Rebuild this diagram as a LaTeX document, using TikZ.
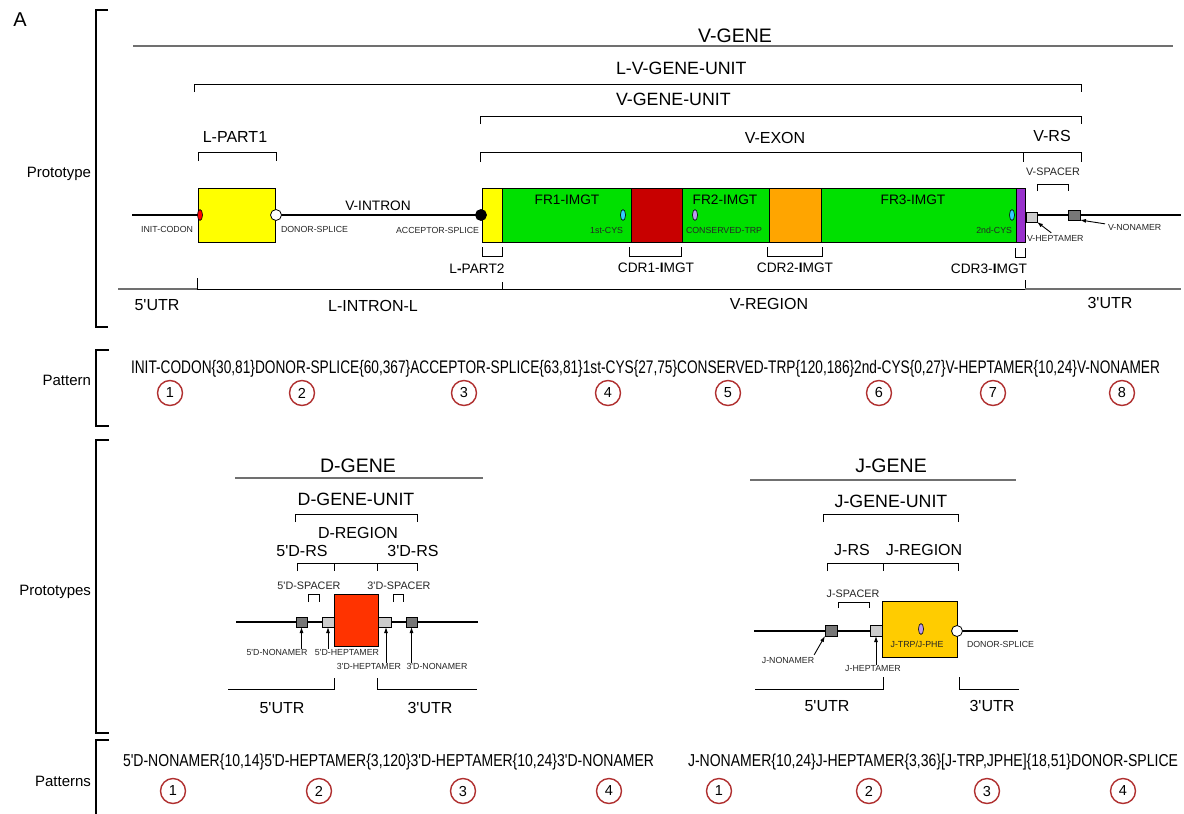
\documentclass[tikz,border=0pt]{standalone}
\usepackage{fontspec}
\setmainfont{Liberation Sans}
\usepackage{graphicx}
\usetikzlibrary{arrows.meta, shapes.geometric}

\definecolor{imgtyellow}{HTML}{FFFF00}
\definecolor{imgtgreen} {HTML}{00E000}
\definecolor{imgtcdra}  {HTML}{C80000}
\definecolor{imgtcdrb}  {HTML}{FFA500}
\definecolor{imgtcdrc}  {HTML}{9933CC}
\definecolor{imgtdreg}  {HTML}{FF3300}
\definecolor{imgtjreg}  {HTML}{FFCC00}
\definecolor{heplight}  {HTML}{CCCCCC}
\definecolor{nondark}   {HTML}{777777}
\definecolor{cyscyan}   {HTML}{33CCFF}
\definecolor{trplav}    {HTML}{BB99EE}
\definecolor{ringred}   {HTML}{B03030}
\definecolor{linegray}  {HTML}{707070}

\newcommand{\apos}{\textquotesingle}

\begin{document}
\begin{tikzpicture}[x=1pt, y=-1pt,
  every node/.style={inner sep=0pt, outer sep=0pt},
  ttl/.style={font=\fontsize{19.5}{23}\selectfont, text height=14pt, text depth=0pt},
  unit/.style={font=\fontsize{17.8}{21}\selectfont, text height=12.8pt, text depth=0pt},
  lbl/.style={font=\fontsize{16}{19}\selectfont, text height=11.5pt, text depth=0pt},
  seg/.style={font=\fontsize{13.7}{16}\selectfont, text height=9.8pt, text depth=0pt},
  sml/.style={font=\fontsize{10.8}{13}\selectfont, text height=7.8pt, text depth=0pt, text=black!85},
  tiny/.style={font=\fontsize{8.8}{10}\selectfont, text height=6.3pt, text depth=0pt, text=black!85},
  side/.style={font=\fontsize{15}{18}\selectfont, text height=10.7pt, text depth=0pt, anchor=east},
  box/.style={draw=black, line width=0.9pt, anchor=north west},
  motif/.style={draw=black, line width=0.6pt, ellipse, minimum width=5pt, minimum height=11pt},
  dot/.style={draw=black, line width=0.8pt, circle, minimum size=11pt},
  ring/.style={circle, draw=ringred, line width=1.4pt, fill=white, minimum size=25pt,
    font=\fontsize{14.5}{17}\selectfont},
  brk/.style={line width=1pt},
  sbrk/.style={line width=1.4pt},
  gline/.style={line width=1.3pt, draw=linegray},
  mline/.style={line width=1.2pt},
  arr/.style={-{Latex[length=6pt,width=4pt]}, line width=0.9pt},
  pat/.style={anchor=base west, font=\fontsize{17}{20}\selectfont},
]
\fill[white] (0,0) rectangle (1184,814);
\useasboundingbox (0,0) rectangle (1184,814);

% side brackets
\node[font=\fontsize{20}{24}\selectfont] (panel) at (20,20) {A};
\draw[sbrk] (108,10) -- (96,10) -- (96,327) -- (108,327);
\draw[sbrk] (109,350) -- (96,350) -- (96,426) -- (109,426);
\draw[sbrk] (109,440) -- (96,440) -- (96,733) -- (109,733);
\draw[sbrk] (109,740) -- (96,740) -- (96,814);
\node[side] (sproto)  at (91,172) {Prototype};
\node[side] (spat)    at (91,380) {Pattern};
\node[side] (sprotos) at (91,590) {Prototypes};
\node[side] (spats)   at (91,781) {Patterns};

% V-GENE brackets
\node[ttl] (vgene) at (735,35) {V-GENE};
\draw[gline] (133,46) -- (1173,46);
\node[unit, anchor=west] (lvunit) at (616,68) {L-V-GENE-UNIT};
\draw[brk] (194,92) -- (194,84) -- (1081,84) -- (1081,92);
\node[unit, anchor=west] (vunit) at (616,99) {V-GENE-UNIT};
\draw[brk] (480,124) -- (480,116) -- (1081,116) -- (1081,124);
\node[lbl] (vexon) at (775,138) {V-EXON};
\draw[brk] (480,162) -- (480,152) -- (1081,152) -- (1081,162);
\draw[brk] (1023,152) -- (1023,162);
\node[lbl] (vrs) at (1052,136) {V-RS};
\node[lbl] (lpart1) at (235,137) {L-PART1};
\draw[brk] (198,161) -- (198,152) -- (276,152) -- (276,161);

% V-GENE prototype
\draw[mline] (132,215) -- (1181,215);
\node[box, fill=imgtyellow, minimum width=77pt, minimum height=54pt] (lp1) at (198,188) {};
\node[box, fill=imgtyellow, minimum width=20pt, minimum height=54pt] (lp2) at (482,188) {};
\node[box, fill=imgtgreen, minimum width=129pt, minimum height=54pt] (fr1) at (502,188) {};
\node[box, fill=imgtcdra, minimum width=51pt, minimum height=54pt] (cdr1) at (631,188) {};
\node[box, fill=imgtgreen, minimum width=87pt, minimum height=54pt] (fr2) at (682,188) {};
\node[box, fill=imgtcdrb, minimum width=52pt, minimum height=54pt] (cdr2) at (769,188) {};
\node[box, fill=imgtgreen, minimum width=195pt, minimum height=54pt] (fr3) at (821,188) {};
\node[box, fill=imgtcdrc, minimum width=9pt, minimum height=54pt] (cdr3) at (1016,188) {};
\node[seg] (tfr1) at (567,200) {FR1-IMGT};
\node[seg] (tfr2) at (725,200) {FR2-IMGT};
\node[seg] (tfr3) at (913,200) {FR3-IMGT};
\node[seg] (vintron) at (378,206) {V-INTRON};

\node[motif, fill=red] (initc) at (200,215) {};
\node[dot, fill=white] (donor) at (276,215) {};
\node[dot, fill=black] (accept) at (481,215) {};
\node[motif, fill=cyscyan] (cys1) at (623,215) {};
\node[motif, fill=trplav] (trp) at (695,215) {};
\node[motif, fill=cyscyan] (cys2) at (1012,215) {};
\node[tiny, anchor=east] (tinit) at (193,229) {INIT-CODON};
\node[tiny, anchor=west] (tdonor) at (281,229) {DONOR-SPLICE};
\node[tiny, anchor=east] (taccept) at (479,230) {ACCEPTOR-SPLICE};
\node[tiny, anchor=east] (tcys1) at (623,230) {1st-CYS};
\node[tiny, anchor=west] (ttrp) at (686,230) {CONSERVED-TRP};
\node[tiny, anchor=east] (tcys2) at (1012,230) {2nd-CYS};

% V-RS
\node[sml] (vspacer) at (1053,172) {V-SPACER};
\draw[brk] (1037,191) -- (1037,184) -- (1068,184) -- (1068,191);
\node[box, fill=heplight, minimum width=11pt, minimum height=10pt] (vhep) at (1026,212) {};
\node[box, fill=nondark, minimum width=12pt, minimum height=10pt] (vnon) at (1068,210) {};
\node[tiny, anchor=west] (tvhep) at (1027,238) {V-HEPTAMER};
\node[tiny, anchor=west] (tvnon) at (1108,227) {V-NONAMER};
\draw[arr] ([xshift=-4pt,yshift=2pt]tvhep.north) -- (vhep.south east);
\draw[arr] ([xshift=-3pt]tvnon.north west) -- (vnon.south east);

% brackets below the boxes
\draw[brk] (482,247) -- (482,256) -- (502,256) -- (502,247);
\draw[brk] (629,247) -- (629,256) -- (681,256) -- (681,247);
\draw[brk] (767,247) -- (767,256) -- (822,256) -- (822,247);
\draw[brk] (1015,248) -- (1015,257) -- (1025,257) -- (1025,248);
\node[seg] (tlp2) at (477,269) {L{\bfseries-}PART2};
\node[seg] (tcdr1) at (656,268) {CDR1-{\bfseries I}MGT};
\node[seg] (tcdr2) at (795,268) {CDR2-{\bfseries I}MGT};
\node[seg] (tcdr3) at (989,269) {CDR3-{\bfseries I}MGT};

% regions
\draw[gline] (118,289) -- (197,289);
\draw[brk] (197,278) -- (197,289) -- (1025,289) -- (1025,280);
\draw[brk] (502,282) -- (502,289);
\draw[gline] (1025,289) -- (1181,289);
\node[lbl] (vutr5) at (157,305) {5\apos UTR};
\node[lbl] (lintron) at (373,306) {L-INTRON-L};
\node[lbl] (vregion) at (769,304) {V-REGION};
\node[lbl] (vutr3) at (1110,303) {3\apos UTR};

% V pattern
\node[pat] (vpat) at (131,373) {\resizebox{1029pt}{13.2pt}{INIT-CODON\{30,81\}DONOR-SPLICE\{60,367\}ACCEPTOR-SPLICE\{63,81\}1st-CYS\{27,75\}CONSERVED-TRP\{120,186\}2nd-CYS\{0,27\}V-HEPTAMER\{10,24\}V-NONAMER}};
\foreach \n/\x in {1/170,2/302,3/464,4/608,5/728,6/879,7/993,8/1122}
  \node[ring] (pv\n) at (\x,393) {\n};

% D-GENE prototype
\node[ttl] (dgene) at (358,465) {D-GENE};
\draw[gline] (235,478) -- (483,478);
\node[unit] (dunit) at (356,499) {D-GENE-UNIT};
\draw[brk] (295,522) -- (295,514) -- (417,514) -- (417,522);
\node[lbl] (dreg) at (358,533) {D-REGION};
\node[lbl] (d5rs) at (302,551) {5\apos D-RS};
\node[lbl] (d3rs) at (413,551) {3\apos D-RS};
\draw[brk] (297,571) -- (297,563) -- (417,563) -- (417,571);
\draw[brk] (334,563) -- (334,571);
\draw[brk] (377,563) -- (377,571);
\node[sml] (d5sp) at (309,586) {5\apos D-SPACER};
\draw[brk] (308,602) -- (308,594) -- (319,594) -- (319,602);
\node[sml] (d3sp) at (399,586) {3\apos D-SPACER};
\draw[brk] (393,602) -- (393,594) -- (403,594) -- (403,602);
\draw[mline] (236,622) -- (478,622);
\node[box, fill=nondark, minimum width=11pt, minimum height=10pt] (dnon5) at (296,617) {};
\node[box, fill=heplight, minimum width=12pt, minimum height=10pt] (dhep5) at (322,617) {};
\node[box, fill=imgtdreg, minimum width=44pt, minimum height=52pt] (dregbox) at (334,594) {};
\node[box, fill=heplight, minimum width=13pt, minimum height=10pt] (dhep3) at (378,617) {};
\node[box, fill=nondark, minimum width=11pt, minimum height=10pt] (dnon3) at (406,617) {};
\node[tiny] (t5non) at (277,652) {5\apos D-NONAMER};
\node[tiny] (t5hep) at (347,652) {5\apos D-HEPTAMER};
\node[tiny] (t3hep) at (369,666) {3\apos D-HEPTAMER};
\node[tiny] (t3non) at (437,666) {3\apos D-NONAMER};
\draw[arr] (dnon5.south |- t5non.north) -- (dnon5.south);
\draw[arr] (dhep5.south |- t5hep.north) -- (dhep5.south);
\draw[arr] ([xshift=1.5pt]dhep3.south |- t3hep.north) -- ([xshift=1.5pt]dhep3.south);
\draw[arr] (dnon3.south |- t3non.north) -- (dnon3.south);
\draw[brk] (228,689) -- (334,689) -- (334,678);
\draw[brk] (377,678) -- (377,689) -- (477,689);
\node[lbl] (dutr5) at (282,708) {5\apos UTR};
\node[lbl] (dutr3) at (430,708) {3\apos UTR};

% J-GENE prototype
\node[ttl] (jgene) at (891,465) {J-GENE};
\draw[gline] (750,480) -- (1016,480);
\node[unit] (junit) at (891,501) {J-GENE-UNIT};
\draw[brk] (823,522) -- (823,514) -- (958,514) -- (958,522);
\node[lbl] (jrs) at (852,550) {J-RS};
\node[lbl] (jreg) at (924,550) {J-REGION};
\draw[brk] (827,571) -- (827,563) -- (958,563) -- (958,571);
\draw[brk] (883,563) -- (883,571);
\node[sml] (jsp) at (853,594) {J-SPACER};
\draw[brk] (838,608) -- (838,602) -- (869,602) -- (869,608);
\draw[mline] (754,631) -- (1018,631);
\node[box, fill=nondark, minimum width=12pt, minimum height=11pt] (jnon) at (825,625) {};
\node[box, fill=heplight, minimum width=12pt, minimum height=11pt] (jhep) at (870,625) {};
\node[box, fill=imgtjreg, minimum width=75pt, minimum height=56pt] (jregbox) at (882,601) {};
\node[motif, fill=trplav] (jtrp) at (921,629) {};
\node[dot, fill=white] (jdonor) at (957,631) {};
\node[tiny] (tjtrp) at (917,644) {J-TRP/J-PHE};
\node[tiny, anchor=west] (tjdonor) at (967,644) {DONOR-SPLICE};
\node[tiny] (tjnon) at (788,660) {J-NONAMER};
\node[tiny] (tjhep) at (873,668) {J-HEPTAMER};
\draw[arr] ([yshift=2pt]tjnon.north east) -- (jnon.south west);
\draw[arr] (jhep.south |- tjhep.north) -- (jhep.south);
\draw[brk] (755,689) -- (883,689) -- (883,677);
\draw[brk] (959,677) -- (959,689) -- (1019,689);
\node[lbl] (jutr5) at (827,706) {5\apos UTR};
\node[lbl] (jutr3) at (992,706) {3\apos UTR};

% D and J patterns
\node[pat] (dpat) at (123,766) {\resizebox{531pt}{12.5pt}{5\apos D-NONAMER\{10,14\}5\apos D-HEPTAMER\{3,120\}3\apos D-HEPTAMER\{10,24\}3\apos D-NONAMER}};
\node[pat] (jpat) at (688,766) {\resizebox{490pt}{12.5pt}{J-NONAMER\{10,24\}J-HEPTAMER\{3,36\}[J-TRP,JPHE]\{18,51\}DONOR-SPLICE}};
\foreach \n/\x in {1/173,2/319,3/463,4/609}
  \node[ring] (pd\n) at (\x,791) {\n};
\foreach \n/\x in {1/719,2/869,3/987,4/1123}
  \node[ring] (pj\n) at (\x,791) {\n};
\end{tikzpicture}
\end{document}
